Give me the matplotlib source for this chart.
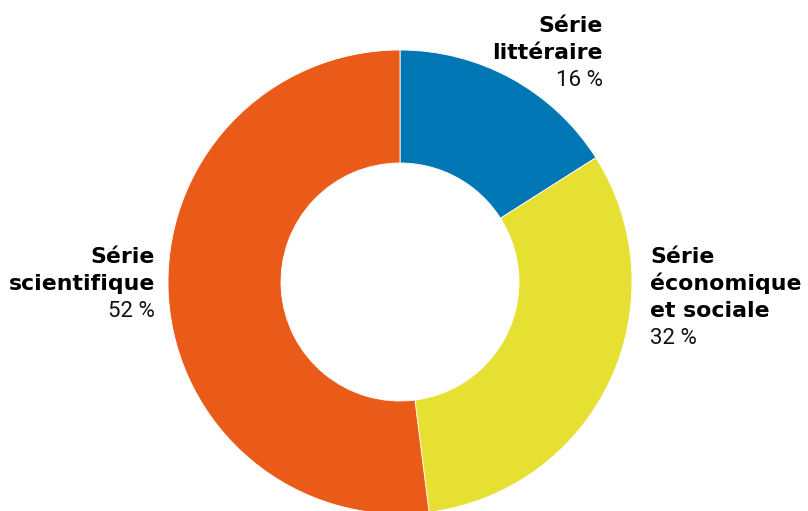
import matplotlib.pyplot as plt

categories = [["Série", "littéraire"], ["Série", "économique", "et sociale"], ["Série", "scientifique"]]
shares = [16, 32, 52]
colors = ["#0077B5", "#E6E033", "#EA5B19"]

# label anchors in pixel coords (x, first baseline from top), alignment
label_pos = [(603, 32, "right"), (650, 263, "left"), (155, 263, "right")]

fig = plt.figure(figsize=(8.08, 5.11), dpi=100)
ax = fig.add_axes([0, 0, 1, 1])

cx, cy, r = 400, 511 - 282, 232
ax.pie(shares, colors=colors, startangle=90, counterclock=False,
       center=(cx, cy), radius=r, frame=True,
       wedgeprops=dict(width=r - 119, edgecolor='white', linewidth=0.6))
ax.set_xlim(0, 808)
ax.set_ylim(0, 511)
ax.set_aspect('equal')
ax.axis('off')

step = 27
for lines, val, (x, y, ha) in zip(categories, shares, label_pos):
    for i, ln in enumerate(lines):
        ax.text(x, 511 - y - i * step, ln, ha=ha, va='baseline', fontsize=15.8,
                fontweight='bold', family='DejaVu Sans', color='black')
    ax.text(x, 511 - y - len(lines) * step, f"{val} %", ha=ha, va='baseline',
            fontsize=16, family='Roboto', color='#111111')

fig.savefig("out.png", dpi=100)
